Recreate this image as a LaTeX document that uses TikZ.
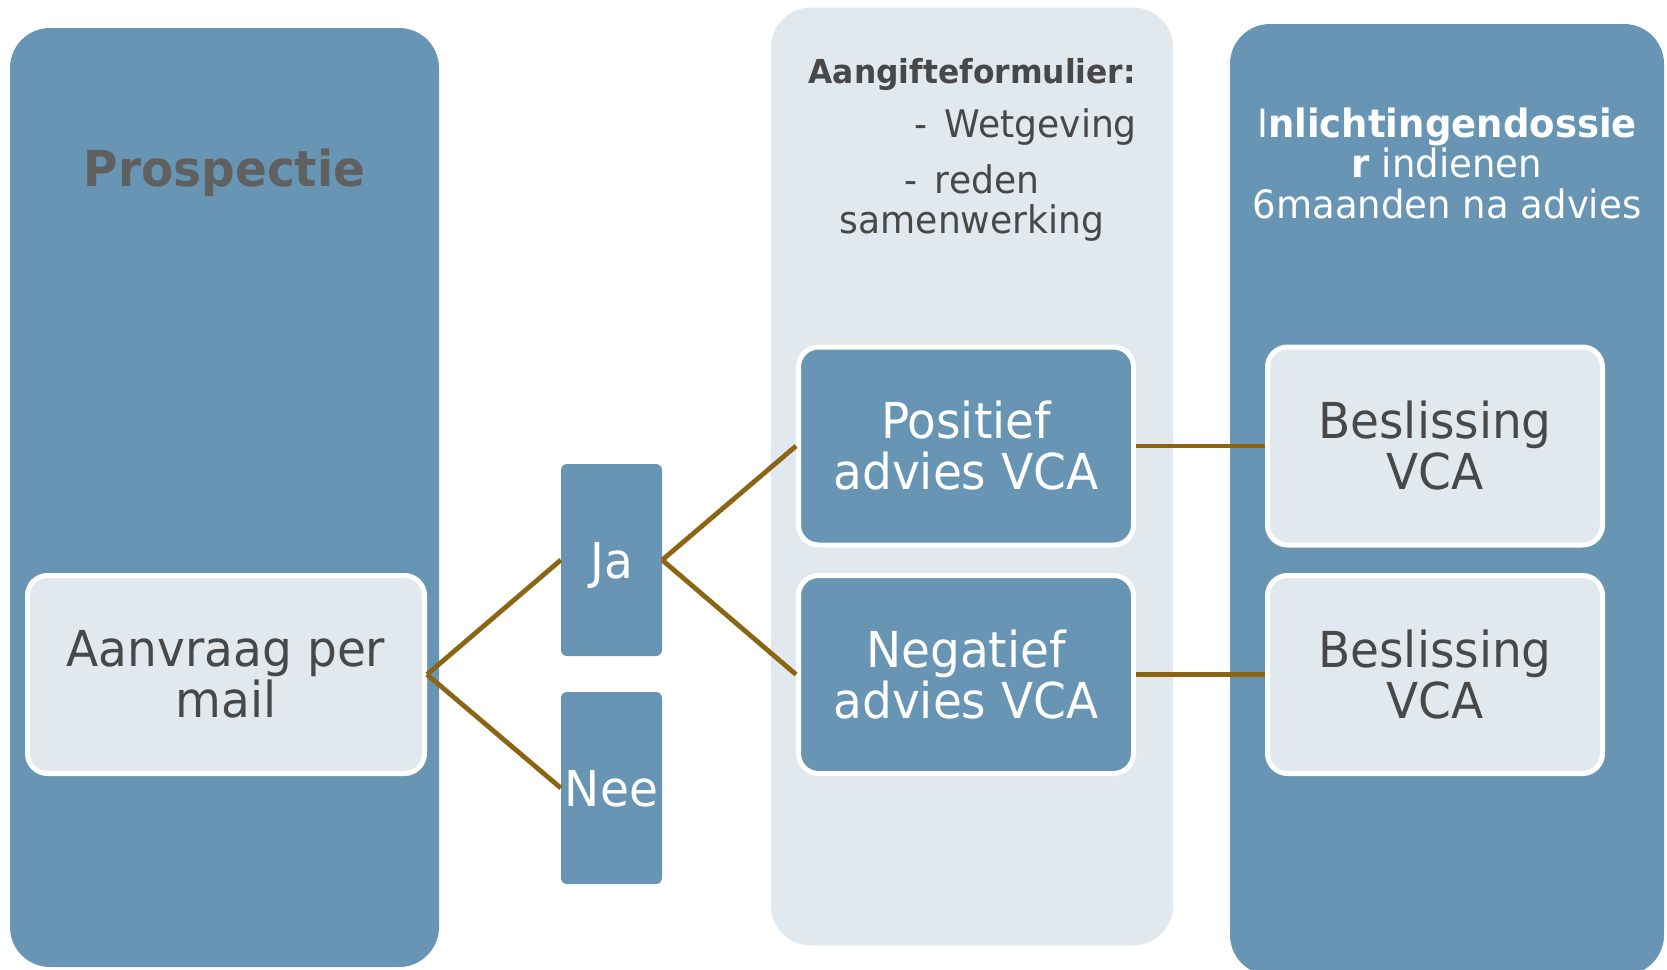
\documentclass[tikz,border=0pt]{standalone}
\usepackage{fontspec}
\setmainfont{DejaVu Sans}[FakeStretch=0.95]
\usepackage{tikz}

\definecolor{colblue}{RGB}{103,149,179}
\definecolor{collight}{RGB}{225,233,239}
\definecolor{coltext}{RGB}{72,72,72}
\definecolor{colgrey}{RGB}{96,96,96}
\definecolor{colline}{RGB}{139,101,20}

\begin{document}
\begin{tikzpicture}[x = 1pt, y = -1pt,
  column/.style = {rounded corners = 40pt, inner sep = 0pt},
  card/.style = {draw = white, line width = 5pt, rounded corners = 20pt, inner sep = 0pt,
    minimum width = 335pt, minimum height = 198pt, align = center,
    font = \fontsize{49.5}{51}\selectfont},
  tag/.style = {fill = colblue, rounded corners = 6pt, inner sep = 0pt, text = white, text depth = 0pt,
    minimum width = 101pt, minimum height = 192pt, font = \fontsize{49.5}{51}\selectfont},
  link/.style = {draw = colline, line width = 4.8pt}]
\useasboundingbox (0, 0) rectangle (1667, 969);

\node[column, fill = colblue, minimum width = 429pt, minimum height = 939pt] (prosp) at (224.5, 497.5) {};
\node[column, fill = collight, minimum width = 402pt, minimum height = 938pt] (aangifte) at (972, 476.5) {};
\node[column, fill = colblue, minimum width = 434pt, minimum height = 951pt] (inlicht) at (1447, 499.5) {};

\node[anchor = base, text = colgrey, font = \bfseries\fontsize{49.5}{51}\selectfont] (prosptitle) at (224.5, 186) {Prospectie};
\node[anchor = base east, inner sep = 0pt, text = coltext, font = \bfseries\fontsize{33}{40}\selectfont] (formtitle) at (1136, 83) {Aangifteformulier:};
\node[anchor = base east, inner sep = 0pt, text = coltext, font = \fontsize{38}{40}\selectfont] (wetgeving) at (1137, 137) {-\hspace{0.45em}Wetgeving};
\node[align = center, inner sep = 0pt, text = coltext, font = \fontsize{38}{40}\selectfont] (reden) at (972, 203) {-\hspace{0.45em}reden\\samenwerking};
\node[align = center, inner sep = 0pt, text = white, font = \fontsize{39}{40.5}\selectfont] (dossier) at (1447, 163) {I\textbf{nlichtingendossie}\\\textbf{r} indienen\\6maanden na advies};

\node[card, fill = collight, text = coltext, minimum width = 397pt] (aanvraag) at (226, 674.5) {Aanvraag per\\mail};
\node[tag] (ja) at (611.5, 560) {Ja};
\node[tag] (nee) at (611.5, 788) {Nee};
\node[card, fill = colblue, text = white] (positief) at (966, 446) {Positief\\advies VCA};
\node[card, fill = colblue, text = white] (negatief) at (966, 674.5) {Negatief\\advies VCA};
\node[card, fill = collight, text = coltext] (beslpos) at (1435, 446) {Beslissing\\VCA};
\node[card, fill = collight, text = coltext] (beslneg) at (1435, 674.5) {Beslissing\\VCA};

\draw[link] (aanvraag.east) -- (ja.west);
\draw[link] (aanvraag.east) -- (nee.west);
\draw[link] (ja.east) -- (positief.west);
\draw[link] (ja.east) -- (negatief.west);
\draw[link] (positief.east) -- (beslpos.west);
\draw[link] (negatief.east) -- (beslneg.west);
\end{tikzpicture}
\end{document}
